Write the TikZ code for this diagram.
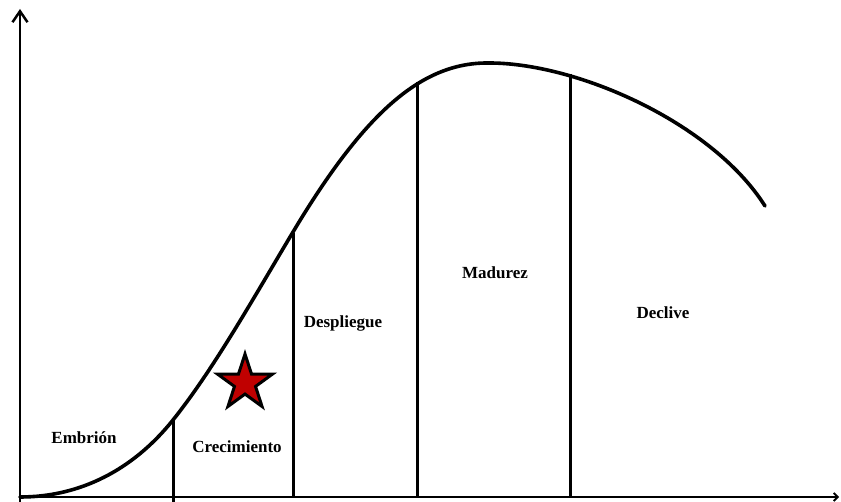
\documentclass[tikz,border=0pt]{standalone}
\usepackage{fontspec}
\setmainfont{Liberation Serif}
\usepackage{tikz}
\usetikzlibrary{shapes.geometric, arrows.meta, positioning}
\definecolor{starRed}{RGB}{192, 0, 0}

\begin{document}
\begin{tikzpicture}[
    x=1pt, y=-1pt,
    axis/.style={
        line width=2.5pt,
        -{Straight Barb[length=11pt, width=15pt, line width=2.5pt]}
    },
    stage/.style={
        line width=2.3pt
    },
    lifecurve/.style={
        line width=3.6pt,
        line cap=round
    },
    phase/.style={
        font=\fontsize{17}{20}\selectfont\bfseries,
        inner sep=1pt
    },
    marker/.style={
        star,
        star points=5,
        star point ratio=2.618,
        minimum size=58pt,
        inner sep=0pt,
        fill=starRed,
        draw=black,
        line width=3pt
    }
]
\useasboundingbox (0,0) rectangle (841,502);

% Axes
\coordinate (origin) at (20,497);
\coordinate (ytop) at (20,9);
\coordinate (xend) at (839,497);
\draw[axis] (20,502) -- (ytop);
\draw[axis, -{Straight Barb[length=4pt, width=8pt, line width=1.8pt]}] (origin) -- (xend);

% Life cycle curve
\draw[lifecurve] (origin)
    .. controls (80,497) and (133,470) .. (173,420)
    .. controls (213,370) and (253,299) .. (293,232)
    .. controls (363,115) and (420,63) .. (487,63)
    .. controls (575,62) and (712,122) .. (765,206);

% Stage limits
\coordinate (b1) at (173.5,420);
\coordinate (b2) at (293.5,233);
\coordinate (b3) at (417.5,82);
\coordinate (b4) at (570.5,74);
\draw[stage] (b1) -- (173.5,502);
\draw[stage] (b2) -- (293.5,497);
\draw[stage] (b3) -- (417.5,497);
\draw[stage] (b4) -- (570.5,497);

% Stage names
\node[phase] (embrion) at (84,438) {Embrión};
\node[phase] (crecimiento) at (237,447) {Crecimiento};
\node[phase] (despliegue) at (343,323) {Despliegue};
\node[phase] (madurez) at (495,273) {Madurez};
\node[phase] (declive) at (663,313) {Declive};

% Current position
\node[marker] (here) at (245,383) {};

\end{tikzpicture}
\end{document}
